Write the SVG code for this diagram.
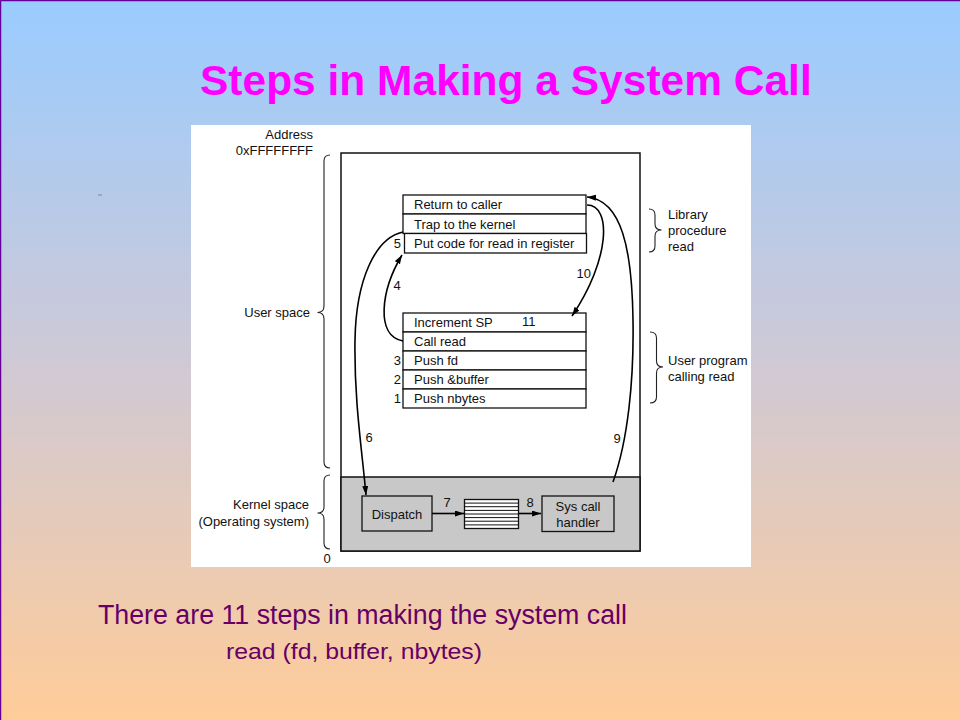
<svg xmlns="http://www.w3.org/2000/svg" width="960" height="720" viewBox="0 0 960 720">
<defs>
<linearGradient id="bg" x1="0" y1="0" x2="0" y2="1">
<stop offset="0" stop-color="#99ccff"/>
<stop offset="0.5" stop-color="#cfc9d6"/>
<stop offset="1" stop-color="#ffcc99"/>
</linearGradient>
<marker id="ah" markerUnits="userSpaceOnUse" markerWidth="10" markerHeight="7" refX="9" refY="3" orient="auto">
<path d="M0,0 L9,3 L0,6 z" fill="#000"/>
</marker>
</defs>
<style>
.t{font-family:"Liberation Sans",Arial,Helvetica,sans-serif;font-size:13px;fill:#111}
.box{fill:#fff;stroke:#111;stroke-width:1.3}
.gbox{fill:#c8c8c8;stroke:#111;stroke-width:1.3}
.br{fill:none;stroke:#222;stroke-width:1.1}
.c{fill:none;stroke:#000;stroke-width:1.6}
</style>
<rect x="0" y="0" width="960" height="720" fill="url(#bg)"/>
<path d="M0.5,720 L0.5,0.5 L960,0.5" fill="none" stroke="#660099" stroke-width="1.5"/>
<line x1="98" y1="195" x2="102" y2="195" stroke="#7a8aa8" stroke-width="1"/>
<text x="200" y="95" style="font-family:'Liberation Sans',Arial,sans-serif;font-weight:bold;font-size:42.5px;fill:#ff00ff">Steps in Making a System Call</text>
<rect x="191" y="125" width="560" height="442" fill="#fff"/>
<g id="memory">
<rect x="341" y="153" width="299" height="398" fill="#fff" stroke="#111" stroke-width="1.5"/>
<rect x="341" y="477" width="299" height="74" fill="#c8c8c8" stroke="#111" stroke-width="1.5"/>
</g>
<g id="left-labels">
<text class="t" x="313" y="139" text-anchor="end">Address</text>
<text class="t" x="313" y="155" text-anchor="end">0xFFFFFFFF</text>
<text class="t" x="310" y="317" text-anchor="end">User space</text>
<path class="br" d="M330,155 Q324,155 324,161 L324,306 Q324,312.5 317.5,312.5 Q324,312.5 324,319 L324,462 Q324,468 330,468"/>
<text class="t" x="309" y="509" text-anchor="end">Kernel space</text>
<text class="t" x="309" y="526" text-anchor="end">(Operating system)</text>
<path class="br" d="M330,475 Q324,475 324,481 L324,507 Q324,513 317.5,513 Q324,513 324,519 L324,543 Q324,549 330,549"/>
<text class="t" x="327" y="563" text-anchor="middle">0</text>
</g>
<g id="library">
<rect class="box" x="403" y="195" width="183" height="19"/>
<rect class="box" x="403" y="214" width="183" height="19.5"/>
<rect class="box" x="404.5" y="233.5" width="182" height="19.5"/>
<text class="t" x="414" y="209">Return to caller</text>
<text class="t" x="414" y="228.5">Trap to the kernel</text>
<text class="t" x="414" y="248">Put code for read in register</text>
<text class="t" x="401" y="248" text-anchor="end">5</text>
</g>
<g id="library-label">
<path class="br" d="M649,209 Q655,209 655,215 L655,224 Q655,230 661.5,230 Q655,230 655,236 L655,246 Q655,252 649,252"/>
<text class="t" x="668" y="218.5">Library</text>
<text class="t" x="668" y="234.5">procedure</text>
<text class="t" x="668" y="250.5">read</text>
</g>
<g id="user-program">
<rect class="box" x="403" y="313" width="183" height="19"/>
<rect class="box" x="403" y="332" width="183" height="19"/>
<rect class="box" x="403" y="351" width="183" height="19"/>
<rect class="box" x="403" y="370" width="183" height="19"/>
<rect class="box" x="403" y="389" width="183" height="19"/>
<text class="t" x="414" y="327">Increment SP</text>
<text class="t" x="522" y="326">11</text>
<text class="t" x="414" y="346">Call read</text>
<text class="t" x="414" y="365">Push fd</text>
<text class="t" x="414" y="384">Push &amp;buffer</text>
<text class="t" x="414" y="403">Push nbytes</text>
<text class="t" x="401" y="365" text-anchor="end">3</text>
<text class="t" x="401" y="384" text-anchor="end">2</text>
<text class="t" x="401" y="403" text-anchor="end">1</text>
</g>
<g id="user-program-label">
<path class="br" d="M650,332 Q656.5,332 656.5,338 L656.5,361 Q656.5,367 663,367 Q656.5,367 656.5,373 L656.5,397 Q656.5,403 650,403"/>
<text class="t" x="668" y="365">User program</text>
<text class="t" x="668" y="381">calling read</text>
</g>
<g id="dispatch">
<rect class="gbox" x="362" y="496" width="70" height="35"/>
<text class="t" x="397" y="518.5" text-anchor="middle">Dispatch</text>
</g>
<g id="table">
<rect x="464.5" y="499.5" width="54" height="29" fill="#fff" stroke="#111" stroke-width="1.3"/>
<path d="M464.5,503.1 H518.5 M464.5,506.7 H518.5 M464.5,510.4 H518.5 M464.5,514 H518.5 M464.5,517.6 H518.5 M464.5,521.2 H518.5 M464.5,524.9 H518.5" stroke="#111" stroke-width="1"/>
</g>
<g id="syscall-handler">
<rect class="gbox" x="542" y="496" width="72" height="35.5"/>
<text class="t" x="578" y="510.5" text-anchor="middle">Sys call</text>
<text class="t" x="578" y="526.5" text-anchor="middle">handler</text>
</g>
<g id="connectors">
<path class="c" d="M403,341 C375,336 381,290 402,255" marker-end="url(#ah)"/>
<path class="c" d="M403,232 C375,238 356,280 355,340 C354,400 362,450 366,495" marker-end="url(#ah)"/>
<path class="c" d="M613,482 C628,440 634,380 633,320 C632,250 622,200 587,197" marker-end="url(#ah)"/>
<path class="c" d="M587,205 C612,205 610,260 572,316" marker-end="url(#ah)"/>
<path class="c" d="M432,513.5 L464,513.5" marker-end="url(#ah)"/>
<path class="c" d="M519,513.5 L541,513.5" marker-end="url(#ah)"/>
<text class="t" x="397" y="290" text-anchor="middle">4</text>
<text class="t" x="369" y="442" text-anchor="middle">6</text>
<text class="t" x="447" y="507" text-anchor="middle">7</text>
<text class="t" x="530" y="507" text-anchor="middle">8</text>
<text class="t" x="617" y="443" text-anchor="middle">9</text>
<text class="t" x="591" y="278" text-anchor="end">10</text>
</g>
<text x="98" y="624" textLength="529" lengthAdjust="spacingAndGlyphs" style="font-family:'Liberation Sans',Arial,sans-serif;font-size:27px;fill:#660066">There are 11 steps in making the system call</text>
<text x="226" y="659" textLength="256" lengthAdjust="spacingAndGlyphs" style="font-family:'Liberation Sans',Arial,sans-serif;font-size:22px;fill:#660066">read (fd, buffer, nbytes)</text>
</svg>
